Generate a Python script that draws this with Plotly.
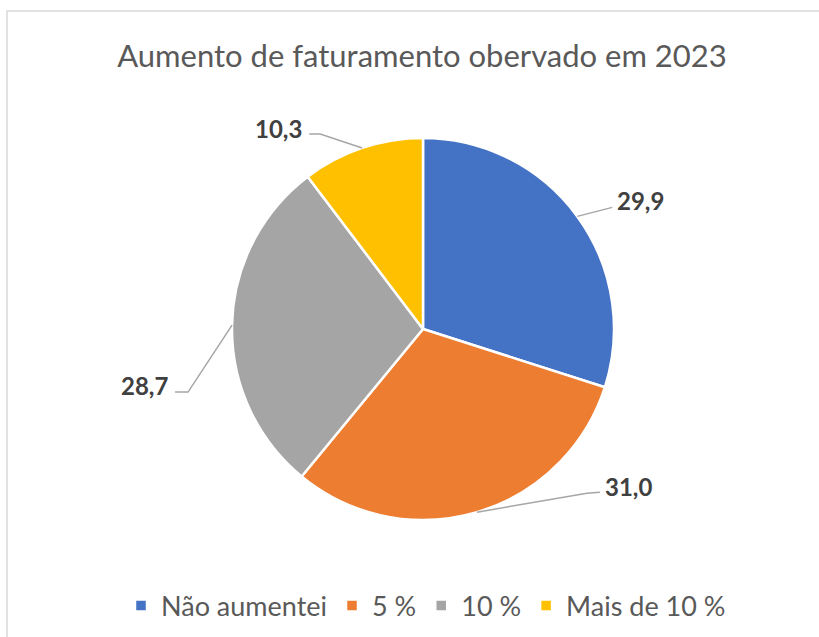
import math
import plotly.graph_objects as go

# ---- data ----
categories = ["Não aumentei", "5 %", "10 %", "Mais de 10 %"]
values = [29.9, 31.0, 28.7, 10.3]
colors = ["#4472C4", "#ED7D31", "#A5A5A5", "#FFC000"]
title_text = "Aumento de faturamento obervado em 2023"

# ---- layout constants (pixels) ----
W, H = 819, 637
CX, CY, R = 423, 329, 191
FONT = "Lato"

def px(x):
    return x / W

def py(y):
    return 1 - y / H

# label styling offsets relative to slice mid-point anchor: (elbow, end, text, xanchor)
label_style = [
    ((35, -9), (35, -9), (38, -16), "left"),
    ((110, -19), (123, -20), (126, -26), "left"),
    ((-44, 67), (-57, 67), (-62, 60), "right"),
    ((-42, -14), (-53, -14), (-58, -19), "right"),
]

fig = go.Figure(
    go.Pie(
        labels=categories,
        values=values,
        sort=False,
        direction="clockwise",
        rotation=0,
        textinfo="none",
        hoverinfo="label+value",
        marker=dict(colors=colors, line=dict(color="white", width=2.5)),
        domain=dict(x=[px(CX - R), px(CX + R)], y=[py(CY + R), py(CY - R)]),
        showlegend=True,
    )
)

shapes = [
    dict(type="rect", xref="paper", yref="paper",
         x0=px(7), y0=py(H + 20), x1=px(W + 20), y1=py(11),
         line=dict(color="#D9D9D9", width=1.5), fillcolor="rgba(0,0,0,0)", layer="below")
]
annotations = []
total = sum(values)
cum = 0.0
for v, (elb, end, txt, xa) in zip(values, label_style):
    mid = (cum + v / 2) / total * 2 * math.pi
    cum += v
    ax = CX + R * math.sin(mid)
    ay = CY - R * math.cos(mid)
    path = "M {},{} L {},{} L {},{}".format(
        px(ax), py(ay), px(ax + elb[0]), py(ay + elb[1]), px(ax + end[0]), py(ay + end[1]))
    shapes.append(dict(type="path", xref="paper", yref="paper", path=path,
                       line=dict(color="#A6A6A6", width=1.5)))
    annotations.append(dict(
        x=px(ax + txt[0]), y=py(ay + txt[1]), xref="paper", yref="paper",
        text="<b>{}</b>".format(f"{v:.1f}".replace(".", ",")),
        showarrow=False, xanchor=xa, yanchor="middle",
        font=dict(family=FONT, size=24, color="#404040"),
    ))

fig.update_layout(
    width=W, height=H,
    margin=dict(l=0, r=0, t=0, b=0),
    paper_bgcolor="white",
    plot_bgcolor="white",
    title=dict(text=title_text, x=px(422), xanchor="center", y=py(56), yanchor="middle",
               font=dict(family=FONT, size=31, color="#595959")),
    legend=dict(orientation="h", x=px(426), xanchor="center", y=py(606), yanchor="middle",
                font=dict(family=FONT, size=27, color="#595959"), itemwidth=30),
    shapes=shapes,
    annotations=annotations,
)

fig.write_html(
    "out.html",
    config={"displayModeBar": False},
    post_script="document.body.style.margin='0';document.body.style.overflow='hidden';",
)
